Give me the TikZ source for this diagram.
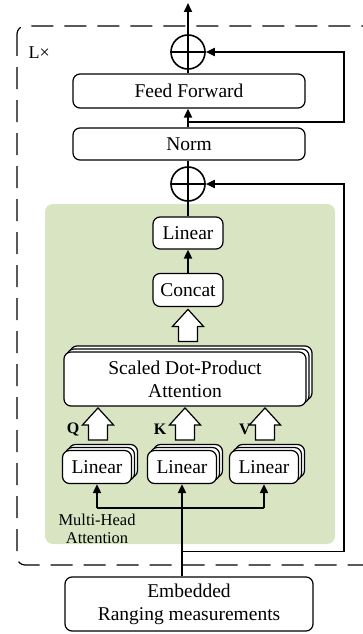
\documentclass[tikz,border=0pt]{standalone}
\usepackage{fontspec}
\setmainfont{Liberation Serif}
\usepackage{tikz}
\usetikzlibrary{arrows.meta, calc, shadows}
\definecolor{blockGreen}{RGB}{216, 228, 194}

% hollow block arrow, base centre given
\newcommand{\hollowarrow}[1]{%
	\draw[hollow] ($(#1)+(-9.5,0)$) -- ++(0,-15) -- ++(-6,0) -- ++(15.5,-17) -- ++(15.5,17) -- ++(-6,0) -- ++(0,15) -- cycle;}

\begin{document}
\begin{tikzpicture}[x=1pt, y=-1pt,
	>={Triangle[length=9pt, width=8pt]},
	box/.style={draw, line width=1.2pt, rounded corners=7pt, fill=white, inner sep=0pt, font=\fontsize{19.5}{23}\selectfont, align=center},
	stack/.style={box, double copy shadow={shadow xshift=3pt, shadow yshift=3pt}},
	sum/.style={draw, circle, line width=1.6pt, minimum size=34pt, inner sep=0pt},
	conn/.style={line width=1.8pt},
	hollow/.style={draw, line width=1.2pt, fill=white},
	qkv/.style={font=\fontsize{16}{18}\bfseries\selectfont}]
	\useasboundingbox (0,0) rectangle (363,634);

	% Repeated block (dashed frame)
	\draw[line width=1.2pt, dash pattern=on 22pt off 11pt, rounded corners=8pt] (17,26) rectangle (380,565);
	\node[anchor=west, font=\fontsize{18}{20}\selectfont] (times) at (25,53) {L×};

	% Multi-head attention area
	\fill[blockGreen, rounded corners=8pt] (45,204) rectangle (335,544);
	\node[font=\fontsize{16.5}{18}\selectfont, align=center] (mhalabel) at (97,529) {Multi-Head\\Attention};

	% Upper part
	\node[sum] (sum1) at (188,52) {};
	\node[box, minimum width=232pt, minimum height=34pt] (ff) at (189,91) {Feed Forward};
	\node[box, minimum width=232pt, minimum height=32pt] (norm) at (189,144) {Norm};
	\node[sum] (sum2) at (188,184) {};
	\coordinate (out) at (188,3);

	% Attention blocks
	\node[box, minimum width=70pt, minimum height=32pt] (lin) at (188,233) {Linear};
	\node[box, minimum width=70pt, minimum height=33pt] (concat) at (188,290) {Concat};
	\node[stack, minimum width=242pt, minimum height=54pt] (sdpa) at (185,379) {Scaled Dot-Product\\Attention};
	\node[stack, minimum width=69pt, minimum height=33pt] (linq) at (97,467) {Linear};
	\node[stack, minimum width=69pt, minimum height=33pt] (link) at (182,467) {Linear};
	\node[stack, minimum width=69pt, minimum height=33pt] (linv) at (264,467) {Linear};
	\node[qkv] (qlabel) at (73,429) {Q};
	\node[qkv] (klabel) at (160,429) {K};
	\node[qkv] (vlabel) at (245,429) {V};

	% Input
	\node[box, minimum width=248pt, minimum height=54pt] (emb) at (189,604) {Embedded\\Ranging measurements};

	% Plus signs
	\foreach \s in {sum1, sum2} {
		\draw[line width=1.4pt] (\s.north) -- (\s.south);
		\draw[line width=1.4pt] (\s.west) -- (\s.east);
	}

	% Main path
	\draw[conn, ->] (sum1.north) -- (out);
	\draw[conn] (ff.north -| sum1) -- (sum1.south);
	\draw[conn, ->] (norm.north -| sum1) -- (ff.south -| sum1);
	\draw[conn] (sum2.north) -- (norm.south -| sum2);
	\draw[conn] (lin.north) -- (sum2.south);
	\draw[conn, ->] (concat.north) -- (lin.south);

	% Hollow arrows
	\hollowarrow{$(sdpa.north)+(3,-10)$}
	\hollowarrow{$(linq.north)+(1,-10)$}
	\hollowarrow{$(link.north)+(3,-10)$}
	\hollowarrow{$(linv.north)+(1,-10)$}

	% Inputs to the linear layers
	\coordinate (split) at ($(emb.north -| link)+(0,-25)$);
	\coordinate (fork) at (0,508);
	\draw[conn, ->] (emb.north -| link) -- (link.south);
	\draw[conn, ->] (linq.south |- fork) -- (linq.south);
	\draw[conn, ->] (linv.south |- fork) -- (linv.south);
	\draw[conn] (linq.south |- fork) -- (linv.south |- fork);

	% Residual connections
	\coordinate (side) at (344,0);
	\draw[conn, ->] (split) -- (split -| side) -- (sum2.east -| side) -- (sum2.east);
	\draw[conn, ->] (188,122) -- (side |- 0,122) -- (sum1.east -| side) -- (sum1.east);
\end{tikzpicture}
\end{document}
